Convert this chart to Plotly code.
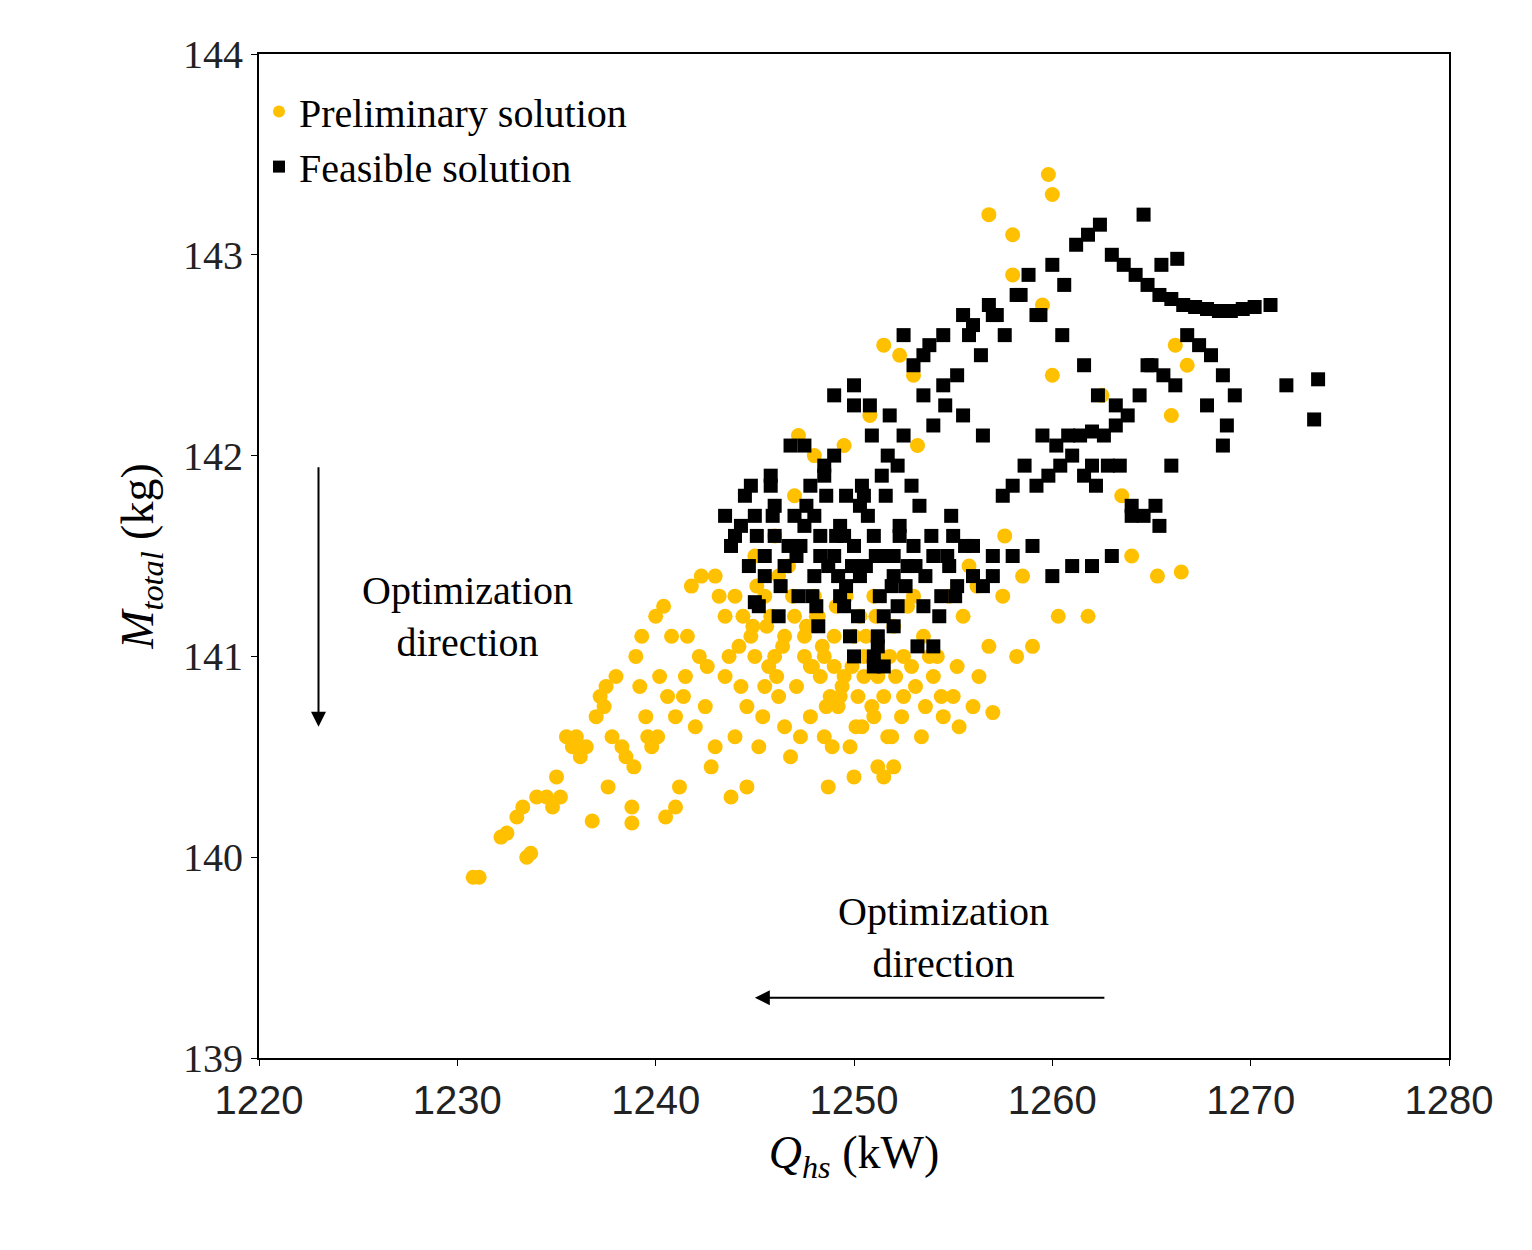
import plotly.graph_objects as go

# Preliminary solution (yellow circles)
pre_x = [1230.8,1231.1,1232.2,1232.5,1233.0,1233.3,1233.5,1233.7,1234.0,1234.5,1235.0,1235.2,1235.5,1236.0,1236.5,1236.8,
         1237.0,1237.2,1237.5,1238.0,1238.3,1238.8,1238.8,1239.0,1239.3,1239.5,1239.8,1240.0,1240.2,1240.4,1240.5,1240.8,
         1241.0,1241.2,1241.5,1241.8,1242.0,1242.3,1242.5,1242.8,1243.0,1243.5,1243.8,1244.0,1244.3,1244.6,1245.0,1245.2,
         1245.5,1246.0,1246.2,1246.5,1246.8,1247.0,1247.2,1247.5,1247.8,1248.0,1248.3,1248.5,1248.7,1249.0,1249.3,1249.5,
         1249.8,1250.0,1250.3,1250.5,1250.8,1251.0,1251.2,1251.5,1251.8,1252.0,1252.3,1251.5,1252.5,1253.0,1253.2,1253.5,
         1254.0,1254.5,1255.0,1255.3,1255.5,1256.0,1256.3,1256.8,1257.0,1256.8,1257.5,1258.0,1258.0,1258.2,1258.5,1259.0,
         1259.5,1259.8,1260.0,1260.0,1260.3,1261.8,1262.5,1263.5,1264.0,1265.3,1266.5,1266.0,1266.2,1266.8,1245.0,1244.0,
         1248.0,1250.0,1251.0,1249.0,1247.0,1246.0,1245.5,1252.0,1243.0,1241.0,1247.5,1248.5,1249.5,1250.5,1251.5,1252.5,
         1246.5,1245.8,1244.8,1249.2,1250.2,1251.2,1247.8,1248.8,1253.0,1254.2,1246.2,1243.5,1242.2,1240.6,1239.6,1238.5,
         1237.8,1236.2,1234.8,1235.8,1237.4,1239.2,1241.6,1243.2,1244.4,1245.6,1254.8,1255.8,1257.6,1256.2,1255.2,1248.2,
         1244.2,1244.9,1245.7,1246.4,1247.1,1247.9,1248.6,1249.4,1250.1,1250.9,1251.7,1252.4,1253.1,1253.8,1244.6,1245.4,
         1246.1,1246.9,1247.6,1248.4,1249.1,1249.9,1250.6,1251.4,1252.1,1252.9,1253.6,1254.4,1245.1,1246.7,1248.1,1249.6,
         1251.1,1252.7,1247.3,1248.9,1250.4,1251.9,1253.4,1243.7,1242.6,1241.4,1240.1,1238.9,1237.6]
pre_y = [139.9,139.9,140.1,140.12,140.2,140.25,140.0,140.02,140.3,140.3,140.4,140.3,140.6,140.6,140.55,140.18,
         140.7,140.8,140.85,140.9,140.55,140.25,140.17,141.0,141.1,140.7,140.55,141.2,140.9,141.25,140.2,141.1,
         140.7,140.35,140.9,141.35,140.65,141.4,140.75,140.45,141.4,141.2,140.3,140.6,140.85,140.35,141.0,140.55,
         141.3,141.6,140.8,140.65,140.5,141.8,142.1,141.0,140.7,142.0,140.9,140.6,140.35,141.1,140.8,142.05,
         140.55,140.4,141.2,140.9,142.2,140.7,140.45,140.4,141.0,140.45,142.5,142.55,140.8,142.4,142.05,141.1,
         140.9,140.7,140.8,140.65,141.2,140.75,140.9,141.05,140.72,143.2,141.3,143.1,142.9,141.0,141.4,141.05,
         142.75,143.4,143.3,142.4,141.2,141.2,142.3,141.8,141.5,141.4,141.42,142.2,142.55,142.45,141.5,141.3,
         141.3,141.1,141.3,140.95,141.2,141.0,140.85,141.15,140.55,140.25,141.1,141.0,140.9,141.0,140.8,141.0,
         141.1,141.2,141.1,140.75,140.8,140.9,140.95,140.8,141.3,141.0,141.4,140.9,141.0,140.8,140.6,140.5,
         140.6,140.5,140.25,140.55,140.75,140.85,141.1,141.3,141.2,141.15,141.3,141.45,141.6,141.35,140.95,141.2,
         141.05,141.15,140.95,141.05,140.85,140.95,140.75,140.85,140.65,140.75,140.6,140.7,140.85,141.0,140.75,140.7,
         140.9,141.3,141.15,141.05,141.25,140.95,141.1,141.0,140.9,140.95,140.75,140.8,141.35,141.45,141.2,141.3,
         141.2,141.25,140.6,140.55,140.65,140.6,140.6,141.0,140.95,140.8,140.6,140.45,140.35]

# Feasible solution (black squares)
fea_x = [1243.5,1243.8,1244.0,1244.5,1245.0,1245.5,1245.8,1246.0,1246.5,1247.0,1247.3,1247.6,1248.0,1248.3,1248.6,1249.0,
         1249.3,1249.6,1250.0,1250.3,1250.6,1251.0,1251.3,1251.6,1252.0,1252.3,1252.6,1253.0,1253.3,1253.6,1254.0,1254.4,
         1254.8,1255.2,1255.6,1256.0,1256.5,1257.0,1245.2,1246.2,1247.2,1248.2,1249.2,1250.2,1251.2,1252.2,1253.2,1250.0,
         1251.0,1251.5,1249.8,1248.5,1247.5,1252.5,1251.8,1250.8,1249.0,1246.8,1245.8,1244.8,1253.8,1254.5,1255.5,1256.8,
         1253.0,1253.5,1254.0,1254.6,1255.2,1255.8,1256.4,1257.0,1257.6,1258.2,1258.8,1259.4,1260.0,1260.6,1261.2,1261.8,
         1262.4,1263.0,1263.6,1264.2,1264.8,1265.4,1266.0,1266.6,1267.2,1267.8,1268.4,1269.0,1269.6,1270.2,1271.0,1259.5,
         1260.2,1260.8,1261.4,1262.0,1262.6,1263.2,1263.8,1264.4,1265.0,1265.6,1266.2,1266.8,1267.4,1268.0,1268.6,1269.2,
         1257.5,1258.0,1258.6,1259.2,1259.8,1260.4,1261.0,1261.6,1262.2,1262.8,1263.4,1264.0,1264.6,1265.4,1255.0,1256.0,
         1257.0,1258.0,1259.0,1260.0,1261.0,1262.0,1263.0,1264.0,1265.2,1266.0,1271.8,1273.4,1273.2,1268.6,1268.8,1267.8,
         1248.5,1249.0,1250.0,1252.5,1253.5,1254.5,1255.5,1256.5,1245.0,1250.0,1251.2,1252.0,1254.0,1259.2,1260.5,1261.6,
         1262.3,1256.0,1257.2,1258.4,1264.6,1265.5,1266.3,1264.8,1263.2,1262.0,1251.0,1251.5,1252.0,1249.5,1250.5,1248.0,
         1244.3,1245.1,1245.9,1246.7,1247.5,1248.3,1249.1,1249.9,1250.7,1251.5,1252.3,1253.1,1253.9,1254.7,1244.7,1245.5,
         1246.3,1247.1,1247.9,1248.7,1249.5,1250.3,1251.1,1251.9,1252.7,1253.5,1254.3,1255.1,1246.0,1247.8,1249.6,1251.4,
         1252.9,1254.9,1250.9,1251.7,1252.2,1250.4,1249.3,1248.1]
fea_y = [141.7,141.55,141.6,141.8,141.7,141.5,141.85,141.6,141.45,141.7,141.55,141.75,141.4,141.6,141.8,141.5,
         141.65,141.35,141.55,141.75,141.45,141.6,141.3,141.8,141.5,141.65,141.35,141.55,141.75,141.4,141.5,141.3,
         141.45,141.35,141.55,141.4,141.35,141.4,141.25,141.2,141.3,141.15,141.4,141.2,141.1,141.25,141.05,141.0,
         141.0,140.95,141.1,141.95,142.05,142.1,142.2,142.25,142.3,142.05,141.9,141.85,142.55,142.6,142.7,142.75,
         142.45,142.3,142.15,142.25,142.4,142.6,142.5,142.7,142.6,142.8,142.9,142.7,142.95,142.85,143.05,143.1,
         143.15,143.0,142.95,142.9,142.85,142.8,142.78,142.75,142.74,142.73,142.72,142.72,142.73,142.74,142.75,142.1,
         142.05,142.1,142.1,142.12,142.1,142.15,142.2,142.3,142.45,142.4,142.35,142.6,142.55,142.5,142.4,142.3,
         141.8,141.85,141.95,141.85,141.9,141.95,142.0,141.9,141.85,141.95,141.95,141.75,141.7,141.65,141.6,141.55,
         141.5,141.5,141.55,141.4,141.45,141.45,141.5,141.7,141.75,141.95,142.35,142.38,142.18,142.05,142.15,142.25,
         141.9,142.0,142.35,142.6,142.5,142.35,142.2,142.1,141.27,142.25,141.05,141.15,141.05,142.7,142.6,142.45,
         142.3,142.65,142.7,142.8,143.2,142.95,142.98,142.45,142.25,141.95,140.95,141.2,141.4,141.6,141.8,141.7,
         141.65,141.6,141.7,141.55,141.65,141.5,141.6,141.45,141.7,141.5,141.6,141.45,141.6,141.5,141.45,141.4,
         141.35,141.5,141.3,141.45,141.25,141.4,141.5,141.35,141.45,141.25,141.2,141.3,141.75,141.85,141.8,141.9,
         141.85,141.7,142.1,142.0,141.95,141.85,141.3,141.25]

fig = go.Figure()
fig.add_trace(go.Scatter(x=pre_x, y=pre_y, mode="markers", name="Preliminary solution",
                         marker=dict(color="#FFC000", size=15, symbol="circle")))
fig.add_trace(go.Scatter(x=fea_x, y=fea_y, mode="markers", name="Feasible solution",
                         marker=dict(color="black", size=14, symbol="square")))

serif = "Liberation Serif"
fig.update_layout(
    width=1532, height=1250, paper_bgcolor="white", plot_bgcolor="white",
    margin=dict(l=251, r=91, t=46, b=200),
    showlegend=True,
    legend=dict(x=0.0, y=0.975, xanchor="left", yanchor="top", bgcolor="rgba(0,0,0,0)",
                font=dict(family=serif, size=40, color="black"), itemsizing="constant",
                tracegroupgap=55),
    xaxis=dict(range=[1220, 1280], dtick=10, showline=True, linecolor="black", linewidth=2, mirror=True,
               ticks="outside", ticklen=6, tickcolor="black", showgrid=False, zeroline=False,
               tickfont=dict(family="Liberation Sans", size=40, color="#222"),
               title=dict(text="<i>Q<sub>hs</sub></i> (kW)", font=dict(family=serif, size=46, color="black"))),
    yaxis=dict(range=[139, 144], dtick=1, showline=True, linecolor="black", linewidth=2, mirror=True,
               ticks="outside", ticklen=6, tickcolor="black", showgrid=False, zeroline=False,
               tickfont=dict(family=serif, size=40, color="#222"),
               title=dict(text="<i>M<sub>total</sub></i> (kg)", font=dict(family=serif, size=46, color="black"))),
)
fig.add_annotation(x=1223, y=140.65, ax=1223, ay=141.95, xref="x", yref="y", axref="x", ayref="y",
                   showarrow=True, arrowhead=2, arrowsize=1.5, arrowwidth=2, arrowcolor="black", text="")
fig.add_annotation(x=1245, y=139.3, ax=1262.7, ay=139.3, xref="x", yref="y", axref="x", ayref="y",
                   showarrow=True, arrowhead=2, arrowsize=1.5, arrowwidth=2, arrowcolor="black", text="")
fig.add_annotation(x=1230.5, y=141.2, text="Optimization<br>direction", showarrow=False,
                   font=dict(family=serif, size=40, color="black"), align="center")
fig.add_annotation(x=1254.5, y=139.6, text="Optimization<br>direction", showarrow=False,
                   font=dict(family=serif, size=40, color="black"), align="center")
fig.write_html("out.html")
